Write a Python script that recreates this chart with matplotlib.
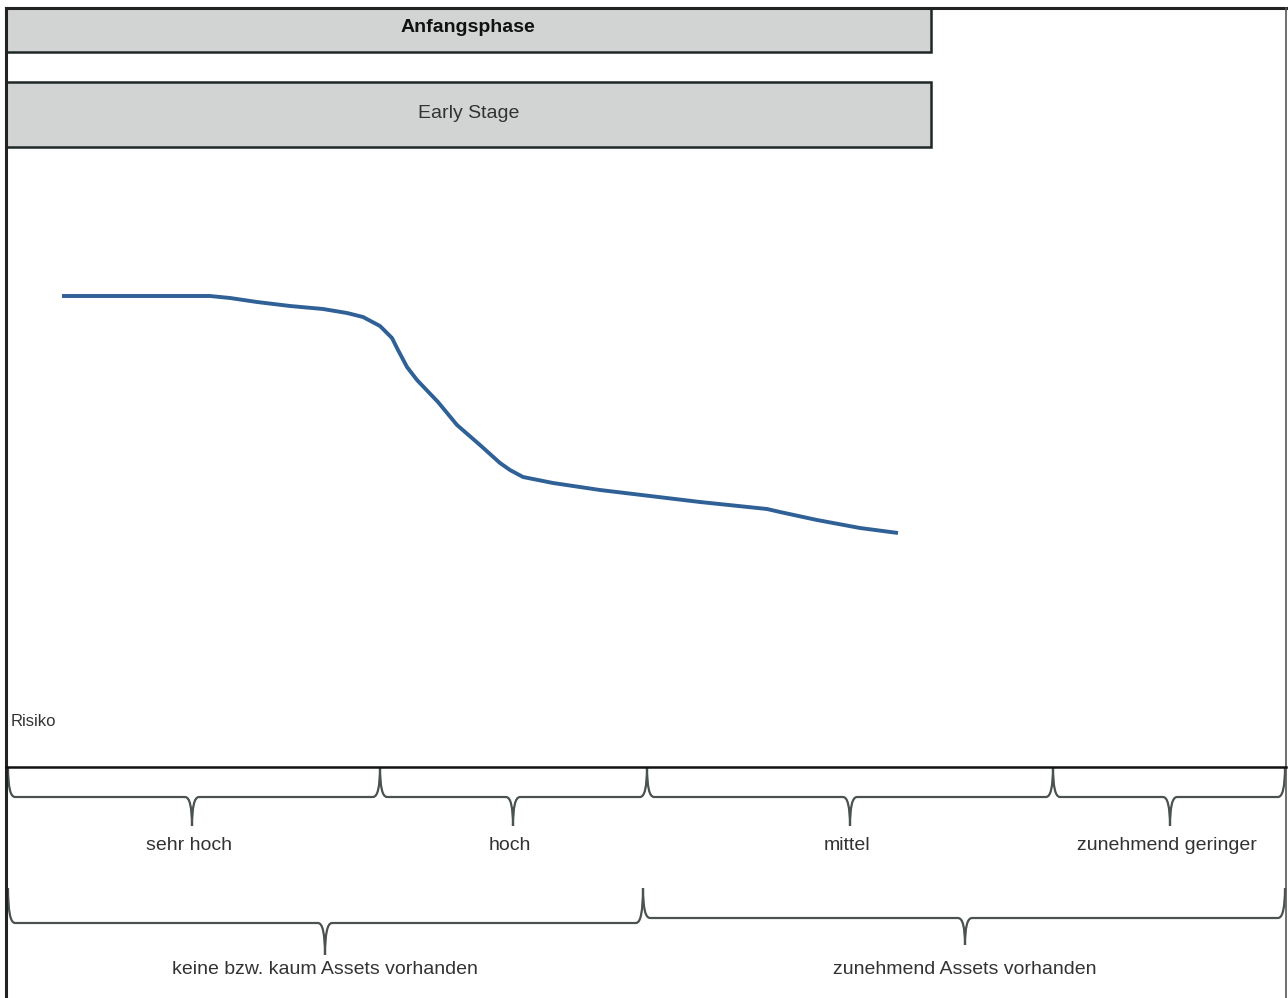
import matplotlib
matplotlib.use('Agg')
import matplotlib.pyplot as plt
from matplotlib.path import Path
from matplotlib.patches import PathPatch, Rectangle

plt.rcParams['font.family'] = ['Liberation Sans', 'DejaVu Sans']

# --- Daten (Koordinaten in Bildpunkten der Vorlage) ---
CURVE_X = [62, 190, 210, 230, 257, 290, 323, 347, 363, 380, 392, 398,
           407, 417, 438, 457, 480, 500, 510, 523, 553, 600, 650, 700,
           767, 780, 817, 860, 898]
CURVE_Y = [296, 296, 296, 298, 302, 306, 309, 313, 317, 326, 338, 350,
           367, 380, 402, 425, 445, 463, 470, 477, 483, 490, 496, 502,
           509, 512, 520, 528, 533]

HEADER_TITLE = 'Anfangsphase'
HEADER_SUB = 'Early Stage'
AXIS_LABEL = 'Risiko'

RISK_LABELS = ['sehr hoch', 'hoch', 'mittel', 'zunehmend geringer']
RISK_EDGES = [8, 380, 647, 1053, 1285]
RISK_TIPS = [192, 513, 850, 1170]

ASSET_LABELS = ['keine bzw. kaum Assets vorhanden', 'zunehmend Assets vorhanden']
ASSET_EDGES = [8, 643, 1285]
ASSET_TIPS = [325, 965]

W, H = 1288, 998
BRACE_COL = '#4a5252'


def brace(ax, x0, x1, xt, y_top, y_bar, y_tip, r=7):
    verts = [(x0, y_top), (x0, y_bar), (x0 + r, y_bar),
             (xt - r, y_bar), (xt, y_bar), (xt, y_tip),
             (xt, y_tip), (xt, y_bar), (xt + r, y_bar),
             (x1 - r, y_bar), (x1, y_bar), (x1, y_top)]
    codes = [Path.MOVETO, Path.CURVE3, Path.CURVE3,
             Path.LINETO, Path.CURVE3, Path.CURVE3,
             Path.MOVETO, Path.CURVE3, Path.CURVE3,
             Path.LINETO, Path.CURVE3, Path.CURVE3]
    ax.add_patch(PathPatch(Path(verts, codes), fill=False,
                           edgecolor=BRACE_COL, linewidth=1.6))


fig = plt.figure(figsize=(W / 100, H / 100), dpi=100)
ax = fig.add_axes([0, 0, 1, 1])
ax.set_xlim(0, W)
ax.set_ylim(H, 0)
ax.axis('off')

# Rahmen
ax.plot([6, 1286], [8, 8], color='#222222', lw=2.2)
ax.plot([6, 6], [8, H], color='#222222', lw=2.2)
ax.plot([1286, 1286], [8, H], color='#555555', lw=1.2)

# Kopfzeilen
ax.add_patch(Rectangle((6, 8), 925, 44, facecolor='#d2d4d4',
                       edgecolor='#1e2828', lw=1.8))
ax.add_patch(Rectangle((6, 82), 925, 65, facecolor='#d2d4d4',
                       edgecolor='#1e2828', lw=1.8))
ax.text(468, 27, HEADER_TITLE, ha='center', va='center',
        fontsize=14, fontweight='bold', color='#111111')
ax.text(469, 113, HEADER_SUB, ha='center', va='center',
        fontsize=14, color='#333333')

# Risikokurve
ax.plot(CURVE_X, CURVE_Y, color='#2f6096', lw=2.8,
        solid_capstyle='butt', solid_joinstyle='round')

ax.text(11, 721, AXIS_LABEL, ha='left', va='center',
        fontsize=12, color='#333333')

# Achse
ax.plot([6, 1286], [767, 767], color='#111111', lw=1.8)

# Risikostufen
for i, lab in enumerate(RISK_LABELS):
    brace(ax, RISK_EDGES[i], RISK_EDGES[i + 1], RISK_TIPS[i], 767, 797, 826)
    ax.text(RISK_TIPS[i] - 3, 845, lab, ha='center', va='center',
            fontsize=14, color='#333333')

# Assets
ASSET_BAR = [923, 918]
ASSET_TIP = [955, 945]
for i, lab in enumerate(ASSET_LABELS):
    brace(ax, ASSET_EDGES[i], ASSET_EDGES[i + 1], ASSET_TIPS[i],
          888, ASSET_BAR[i], ASSET_TIP[i])
    ax.text(ASSET_TIPS[i], 969, lab, ha='center', va='center',
            fontsize=14, color='#333333')

fig.savefig('out.png', dpi=100)
